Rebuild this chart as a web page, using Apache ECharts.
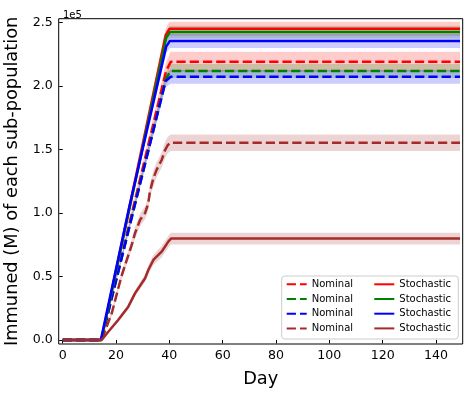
<!DOCTYPE html>
<html>
<head>
<meta charset="utf-8">
<script src="https://cdn.jsdelivr.net/npm/echarts@6/dist/echarts.min.js"></script>
<style>
  html, body { margin: 0; padding: 0; background: #fff; }
  #chart { width: 470px; height: 394px; }
</style>
</head>
<body>
<div id="chart"></div>
<script>
// Breakpoints (x = day, y = immuned count)
const nomRedX = [0, 14.5, 38.8, 40.5, 149];
const nomRedY = [0, 0, 212000, 219000, 219000];
const nomRedSpread = [0, 0, 7000, 8000, 8000];

const nomGreenX = [0, 14.5, 38.8, 40.5, 149];
const nomGreenY = [0, 0, 206000, 211800, 211800];
const nomGreenSpread = [0, 0, 5000, 5500, 5500];

const nomBlueX = [0, 14.5, 38.6, 40.5, 149];
const nomBlueY = [0, 0, 204000, 207300, 207300];
const nomBlueSpread = [0, 0, 5000, 5500, 5500];

const nomBrownX = [0, 14.6, 18.4, 22, 25.9, 27.1, 29, 30.9, 32.1, 32.7, 34, 35.2, 37.1, 38.4, 39.4, 40.5, 149];
const nomBrownY = [0, 0, 21000, 50000, 75000, 84000, 94500, 100000, 107600, 116800, 127300, 133900, 141700, 149600, 153500, 155300, 155300];
const nomBrownSpread = [0, 0, 2000, 3000, 4000, 4500, 5000, 5000, 5500, 5500, 6000, 6000, 6000, 6500, 6500, 6500, 6500];

const stoRedX = [0, 14.5, 38.6, 40, 149];
const stoRedY = [0, 0, 240000, 245000, 245000];
const stoRedSpread = [0, 0, 5000, 5500, 5500];

const stoGreenX = [0, 14.5, 38.8, 40.2, 149];
const stoGreenY = [0, 0, 238000, 242500, 242500];
const stoGreenSpread = [0, 0, 4500, 5000, 5000];

const stoBlueX = [0, 14.3, 25, 38.8, 40.2, 149];
const stoBlueY = [0, 0, 105000, 231000, 235500, 235500];
const stoBlueSpread = [0, 0, 2500, 5000, 5500, 5500];

const stoBrownX = [0, 14.6, 17.1, 20.8, 24.6, 27.1, 30.9, 32.1, 34, 37.1, 39.6, 40.6, 149];
const stoBrownY = [0, 0, 6500, 15700, 26200, 36700, 48600, 55100, 63000, 69500, 77400, 79800, 79800];
const stoBrownSpread = [0, 0, 1000, 1500, 2000, 2500, 3000, 3500, 4000, 4500, 4700, 4700, 4700];

const xTicks = [0, 20, 40, 60, 80, 100, 120, 140];
const yTicks = [0, 50000, 100000, 150000, 200000, 250000];

const FONT = 'DejaVu Sans';
const DASH = [9.25, 4];

const pops = [
  { name: 'Nominal', tag: 'r', color: '#ff0000', fill: 'rgba(255,0,0,0.2)', xs: nomRedX, ys: nomRedY, sp: nomRedSpread, dashed: true },
  { name: 'Nominal', tag: 'g', color: '#008000', fill: 'rgba(0,128,0,0.2)', xs: nomGreenX, ys: nomGreenY, sp: nomGreenSpread, dashed: true },
  { name: 'Nominal', tag: 'b', color: '#0000ff', fill: 'rgba(0,0,255,0.2)', xs: nomBlueX, ys: nomBlueY, sp: nomBlueSpread, dashed: true },
  { name: 'Nominal', tag: 'k', color: '#a52a2a', fill: 'rgba(165,42,42,0.2)', xs: nomBrownX, ys: nomBrownY, sp: nomBrownSpread, dashed: true },
  { name: 'Stochastic', tag: 'r', color: '#ff0000', fill: 'rgba(255,0,0,0.2)', xs: stoRedX, ys: stoRedY, sp: stoRedSpread, dashed: false },
  { name: 'Stochastic', tag: 'g', color: '#008000', fill: 'rgba(0,128,0,0.2)', xs: stoGreenX, ys: stoGreenY, sp: stoGreenSpread, dashed: false },
  { name: 'Stochastic', tag: 'b', color: '#0000ff', fill: 'rgba(0,0,255,0.2)', xs: stoBlueX, ys: stoBlueY, sp: stoBlueSpread, dashed: false },
  { name: 'Stochastic', tag: 'k', color: '#a52a2a', fill: 'rgba(165,42,42,0.2)', xs: stoBrownX, ys: stoBrownY, sp: stoBrownSpread, dashed: false }
];

function bandSeries(p) {
  return {
    type: 'custom',
    silent: true,
    z: 1,
    data: [[p.xs[0], p.ys[0]]],
    renderItem: (params, api) => {
      const upper = p.xs.map((x, i) => api.coord([x, p.ys[i] + p.sp[i]]));
      const lower = p.xs.map((x, i) => api.coord([x, p.ys[i] - p.sp[i]])).reverse();
      return {
        type: 'polygon',
        shape: { points: upper.concat(lower) },
        style: { fill: p.fill }
      };
    }
  };
}

function lineSeries(p) {
  return {
    name: p.name + ' ' + p.tag,
    type: 'line',
    z: 2,
    symbol: 'none',
    showSymbol: false,
    animation: false,
    data: p.xs.map((x, i) => [x, p.ys[i]]),
    lineStyle: { color: p.color, width: 2.5, type: p.dashed ? DASH : 'solid' },
    itemStyle: { color: p.color }
  };
}

const legendCommon = {
  orient: 'vertical',
  padding: 0,
  z: 10,
  itemWidth: 20,
  itemHeight: 10,
  itemGap: 4.7,
  itemStyle: { color: 'transparent', borderWidth: 0, opacity: 0 },
  textStyle: { fontFamily: FONT, fontSize: 10, color: '#000', lineHeight: 10 },
  formatter: (name) => name.split(' ')[0],
  selectedMode: false
};

const chart = echarts.init(document.getElementById('chart'));
chart.setOption({
  animation: false,
  title: {
    text: '1e5',
    left: 58,
    top: 5,
    textStyle: { fontFamily: FONT, fontSize: 10, fontWeight: 'normal', color: '#000' }
  },
  grid: {
    left: 58.7,
    right: 7.3,
    top: 18.7,
    bottom: 50,
    outerBoundsMode: 'none',
    containLabel: false,
    show: true,
    borderColor: '#000',
    borderWidth: 1,
    backgroundColor: 'transparent'
  },
  legend: [
    Object.assign({}, legendCommon, {
      left: 285.7,
      top: 279.3,
      data: pops.filter((p) => p.dashed).map((p) => p.name + ' ' + p.tag)
    }),
    Object.assign({}, legendCommon, {
      left: 373.3,
      top: 279.3,
      data: pops.filter((p) => !p.dashed).map((p) => p.name + ' ' + p.tag)
    })
  ],
  graphic: [{
    type: 'rect',
    z: 3,
    silent: true,
    shape: { x: 281.7, y: 276, width: 176.6, height: 63, r: 3 },
    style: { fill: 'rgba(255,255,255,0.8)', stroke: '#cccccc', lineWidth: 1 }
  }],
  xAxis: {
    type: 'value',
    min: -1.5,
    max: 150,
    name: 'Day',
    nameLocation: 'middle',
    nameGap: 26,
    nameTextStyle: { fontFamily: FONT, fontSize: 17.8, color: '#000' },
    splitLine: { show: false },
    axisLine: { show: false },
    axisTick: { show: true, length: 3.5, lineStyle: { color: '#000', width: 1 }, customValues: xTicks },
    axisLabel: { fontFamily: FONT, fontSize: 12.6, color: '#000', margin: 5, customValues: xTicks }
  },
  yAxis: {
    type: 'value',
    min: -3200,
    max: 253000,
    name: 'Immuned (M) of each sub-population',
    nameLocation: 'middle',
    nameGap: 35,
    nameTextStyle: { fontFamily: FONT, fontSize: 17.8, color: '#000' },
    splitLine: { show: false },
    axisLine: { show: false },
    axisTick: { show: true, length: 3.5, lineStyle: { color: '#000', width: 1 }, customValues: yTicks },
    axisLabel: {
      fontFamily: FONT, fontSize: 12.6, color: '#000', margin: 6, customValues: yTicks,
      formatter: (v) => (v / 100000).toFixed(1)
    }
  },
  series: pops.map(bandSeries).concat(pops.map(lineSeries))
});
</script>
</body>
</html>
